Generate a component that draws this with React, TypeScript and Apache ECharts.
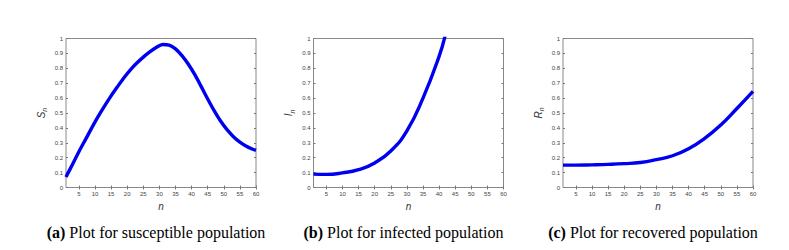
import React, { useEffect, useRef } from 'react';
import * as echarts from 'echarts';

// Susceptible population S_n
const nS = [1, 3, 5, 7, 9, 11, 13, 15, 17, 19, 21, 23, 25, 27, 29, 31, 33, 35, 37, 39, 41, 43, 45, 47, 49, 51, 53, 55, 57, 59, 60];
const sValues = [0.07, 0.155, 0.24, 0.32, 0.4, 0.477, 0.548, 0.615, 0.677, 0.737, 0.79, 0.835, 0.875, 0.91, 0.94, 0.96, 0.956, 0.93, 0.885, 0.827, 0.757, 0.677, 0.594, 0.516, 0.446, 0.388, 0.341, 0.304, 0.277, 0.257, 0.25];

// Infected population I_n
const nI = [1, 5, 10, 15, 20, 25, 30, 35, 40, 42];
const iValues = [0.09, 0.088, 0.098, 0.12, 0.165, 0.245, 0.38, 0.6, 0.88, 1.03];

// Recovered population R_n
const nR = [1, 5, 10, 15, 20, 25, 30, 35, 40, 45, 50, 55, 60];
const rValues = [0.15, 0.15, 0.152, 0.155, 0.16, 0.168, 0.187, 0.213, 0.26, 0.33, 0.42, 0.53, 0.645];

const xTicks = [5, 10, 15, 20, 25, 30, 35, 40, 45, 50, 55, 60];
const yNames = ['S', 'I', 'R'];
const captionTags = ['(a)', '(b)', '(c)'];
const captionTexts = [' Plot for susceptible population', ' Plot for infected population', ' Plot for recovered population'];

export default function App() {
  const ref = useRef<HTMLDivElement>(null);
  useEffect(() => {
    const chart = echarts.init(ref.current!, null, { renderer: 'svg' });
    const lefts = [66, 313.5, 563];
    const W = 190;
    const top = 38.5;
    const H = 149;
    const seriesData = [
      nS.map((n, k) => [n, sValues[k]]),
      nI.map((n, k) => [n, iValues[k]]),
      nR.map((n, k) => [n, rValues[k]]),
    ];
    const smoothing = [0.3, true, true];
    const tickStyle = { color: '#777', width: 1 };
    const labelStyle = { fontSize: 6, color: '#444', fontFamily: 'Liberation Sans' };
    const grids: any[] = [];
    const xAxes: any[] = [];
    const yAxes: any[] = [];
    const series: any[] = [];
    const graphics: any[] = [];
    for (let i = 0; i < 3; i++) {
      grids.push({ left: lefts[i], top, width: W, height: H, show: true, borderColor: '#888', borderWidth: 1, backgroundColor: 'transparent' });
      xAxes.push({
        gridIndex: i, type: 'value', min: 1, max: 60, position: 'bottom',
        axisLine: { show: false },
        axisTick: { show: true, inside: true, length: 2, customValues: xTicks, lineStyle: tickStyle },
        axisLabel: { show: true, customValues: xTicks, margin: 3, ...labelStyle },
        splitLine: { show: false },
        name: 'n', nameLocation: 'middle', nameGap: 11,
        nameTextStyle: { fontSize: 10, fontStyle: 'italic', color: '#333', fontFamily: 'Liberation Sans' },
      });
      xAxes.push({
        gridIndex: i, type: 'value', min: 1, max: 60, position: 'top',
        axisLine: { show: false },
        axisTick: { show: true, inside: true, length: 2, customValues: xTicks, lineStyle: tickStyle },
        axisLabel: { show: false },
        splitLine: { show: false },
      });
      yAxes.push({
        gridIndex: i, type: 'value', min: 0, max: 1, interval: 0.1, position: 'left',
        axisLine: { show: false },
        axisTick: { show: true, inside: true, length: 2, lineStyle: tickStyle },
        axisLabel: { show: true, margin: 3, ...labelStyle },
        splitLine: { show: false },
        name: `{v|${yNames[i]}}{s|n}`, nameLocation: 'middle', nameGap: 18,
        nameTextStyle: {
          rich: {
            v: { fontSize: 10, fontStyle: 'italic', color: '#333', fontFamily: 'Liberation Sans', lineHeight: 14, verticalAlign: 'middle' },
            s: { fontSize: 7, fontStyle: 'italic', color: '#333', fontFamily: 'Liberation Sans', lineHeight: 14, verticalAlign: 'bottom' },
          },
        },
      });
      yAxes.push({
        gridIndex: i, type: 'value', min: 0, max: 1, interval: 0.1, position: 'right',
        axisLine: { show: false },
        axisTick: { show: true, inside: true, length: 2, lineStyle: tickStyle },
        axisLabel: { show: false },
        splitLine: { show: false },
      });
      series.push({
        type: 'line', xAxisIndex: 2 * i, yAxisIndex: 2 * i,
        data: seriesData[i], showSymbol: false, smooth: smoothing[i], clip: true,
        lineStyle: { color: '#0000f0', width: 3.4 },
      });
      graphics.push({
        type: 'text', x: lefts[i] + W / 2 - 5, y: 232,
        style: {
          text: `{b|${captionTags[i]}}{r|${captionTexts[i]}}`,
          align: 'center', verticalAlign: 'middle',
          rich: {
            b: { fontSize: 16, fontWeight: 'bold', fontFamily: 'Liberation Serif', fill: '#000' },
            r: { fontSize: 16, fontFamily: 'Liberation Serif', fill: '#000' },
          },
        },
      });
    }
    chart.setOption({
      animation: false,
      backgroundColor: '#fff',
      grid: grids,
      xAxis: xAxes,
      yAxis: yAxes,
      series,
      graphic: graphics,
    });
    return () => chart.dispose();
  }, []);
  return <div ref={ref} style={{ position: 'absolute', left: 0, top: 0, width: 789, height: 250 }} />;
}
